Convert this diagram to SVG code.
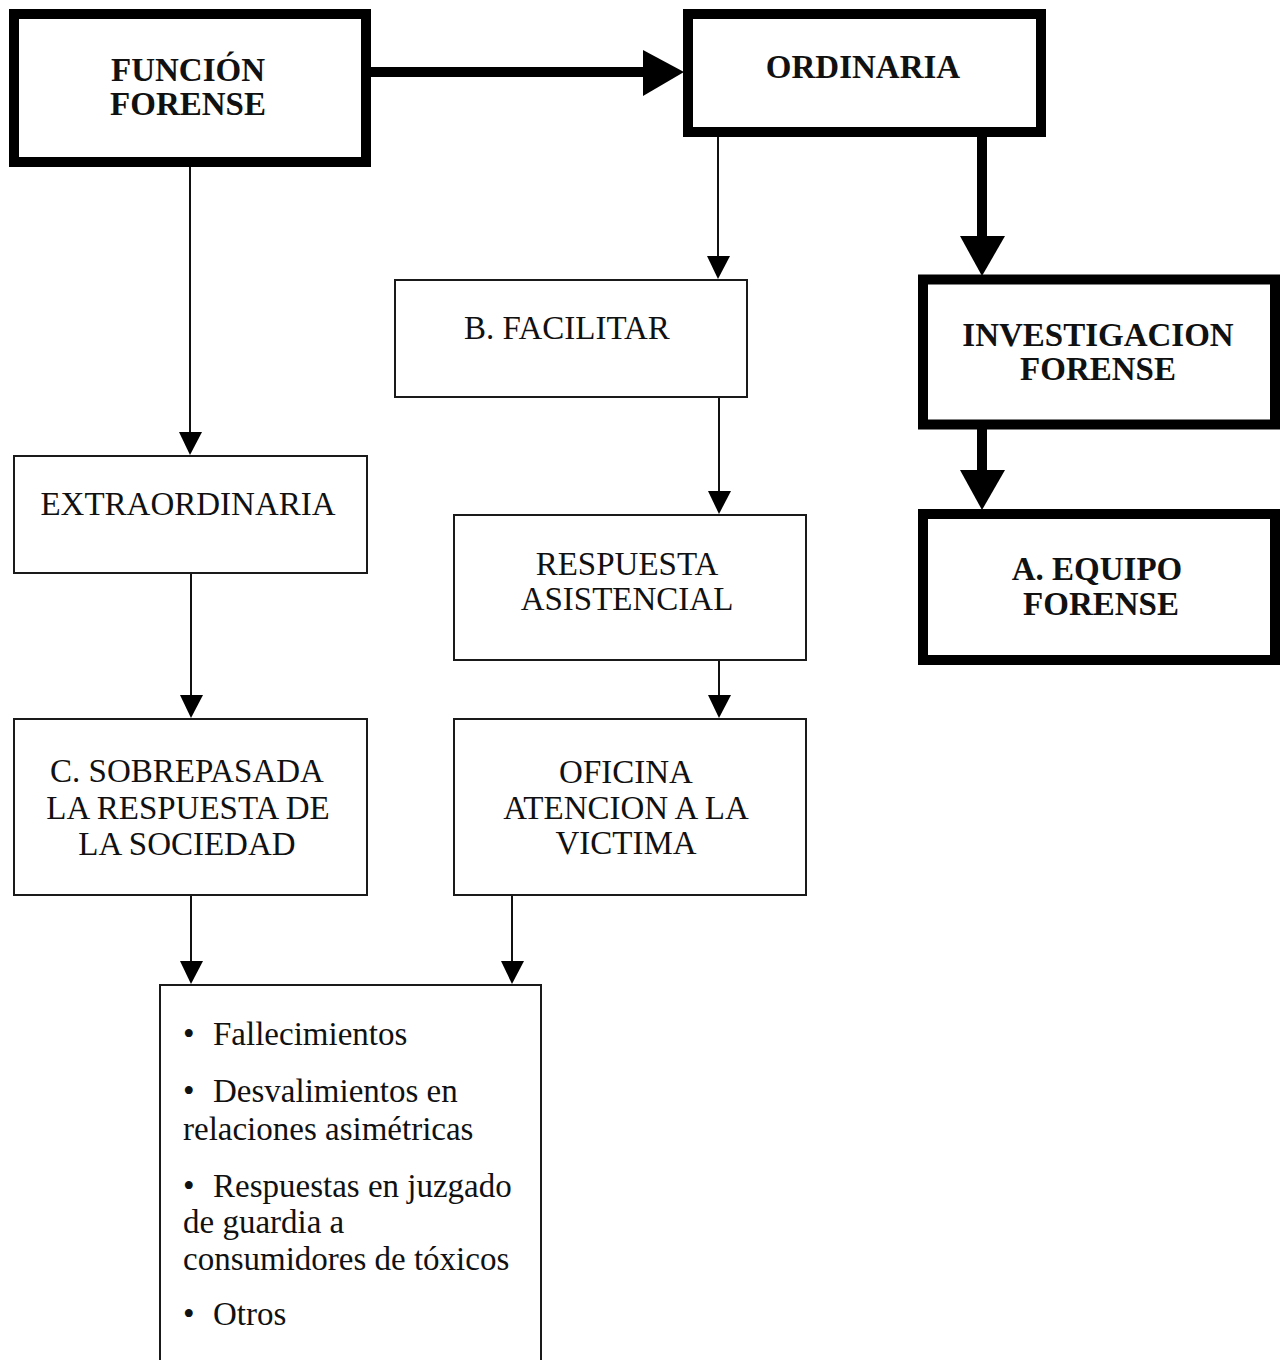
<svg xmlns="http://www.w3.org/2000/svg" width="1286" height="1360" viewBox="0 0 1286 1360">
<style>
  .thick { fill: #fff; stroke: #000; stroke-width: 10; }
  .thin { fill: #fff; stroke: #1a1a1a; stroke-width: 2; }
  .t { font-family: "Liberation Serif", "Times New Roman", serif; font-size: 33px; fill: #111; }
  .c { text-anchor: middle; }
  .b { font-weight: bold; }
  .ln { stroke: #111; stroke-width: 2; fill: none; }
  .lnk { stroke: #000; stroke-width: 10; fill: none; }
  .hd { fill: #000; }
</style>
<rect width="1286" height="1360" fill="#fff"/>
<g id="connectors">
  <line class="lnk" x1="366" y1="72" x2="646" y2="72"/>
  <polygon class="hd" points="643,50 684,72 643,96"/>
  <line class="lnk" x1="982" y1="132" x2="982" y2="240"/>
  <polygon class="hd" points="960,236 1005,236 982,276"/>
  <line class="lnk" x1="982" y1="424" x2="982" y2="474"/>
  <polygon class="hd" points="960,470 1005,470 982,510"/>
  <line class="ln" x1="718" y1="137" x2="718" y2="258"/>
  <polygon class="hd" points="707,256 730,256 718,279"/>
  <line class="ln" x1="190" y1="167" x2="190" y2="434"/>
  <polygon class="hd" points="179,432 202,432 190,455"/>
  <line class="ln" x1="719" y1="397" x2="719" y2="493"/>
  <polygon class="hd" points="708,491 731,491 719,514"/>
  <line class="ln" x1="191" y1="573" x2="191" y2="697"/>
  <polygon class="hd" points="180,695 203,695 191,718"/>
  <line class="ln" x1="719" y1="660" x2="719" y2="697"/>
  <polygon class="hd" points="708,695 731,695 719,718"/>
  <line class="ln" x1="191" y1="895" x2="191" y2="963"/>
  <polygon class="hd" points="180,961 203,961 191,984"/>
  <line class="ln" x1="512" y1="895" x2="512" y2="963"/>
  <polygon class="hd" points="501,961 524,961 512,984"/>
</g>
<g id="funcion-forense">
  <rect class="thick" x="14" y="14" width="352" height="148"/>
  <text class="t c b" x="188" y="81">FUNCIÓN</text>
  <text class="t c b" x="188" y="115">FORENSE</text>
</g>
<g id="ordinaria">
  <rect class="thick" x="688" y="14" width="353" height="118"/>
  <text class="t c b" x="863" y="78">ORDINARIA</text>
</g>
<g id="investigacion-forense">
  <rect class="thick" x="923" y="279.5" width="352" height="145"/>
  <text class="t c b" x="1098" y="346">INVESTIGACION</text>
  <text class="t c b" x="1098" y="380">FORENSE</text>
</g>
<g id="equipo-forense">
  <rect class="thick" x="923" y="514" width="352" height="146"/>
  <text class="t c b" x="1097" y="580">A. EQUIPO</text>
  <text class="t c b" x="1101" y="615">FORENSE</text>
</g>
<g id="facilitar">
  <rect class="thin" x="395" y="280" width="352" height="117"/>
  <text class="t c" x="567" y="339">B. FACILITAR</text>
</g>
<g id="extraordinaria">
  <rect class="thin" x="14" y="456" width="353" height="117"/>
  <text class="t c" x="188" y="515">EXTRAORDINARIA</text>
</g>
<g id="respuesta-asistencial">
  <rect class="thin" x="454" y="515" width="352" height="145"/>
  <text class="t c" x="627" y="575">RESPUESTA</text>
  <text class="t c" x="627" y="610">ASISTENCIAL</text>
</g>
<g id="sobrepasada">
  <rect class="thin" x="14" y="719" width="353" height="176"/>
  <text class="t c" x="187" y="782">C. SOBREPASADA</text>
  <text class="t c" x="188" y="819">LA RESPUESTA DE</text>
  <text class="t c" x="187" y="855">LA SOCIEDAD</text>
</g>
<g id="oficina">
  <rect class="thin" x="454" y="719" width="352" height="176"/>
  <text class="t c" x="626" y="783">OFICINA</text>
  <text class="t c" x="626" y="819">ATENCION A LA</text>
  <text class="t c" x="626" y="854">VICTIMA</text>
</g>
<g id="lista">
  <rect class="thin" x="160" y="985" width="381" height="400"/>
  <text class="t" x="183" y="1045">•<tspan x="213">Fallecimientos</tspan></text>
  <text class="t" x="183" y="1102">•<tspan x="213">Desvalimientos en</tspan></text>
  <text class="t" x="183" y="1140">relaciones asimétricas</text>
  <text class="t" x="183" y="1197">•<tspan x="213">Respuestas en juzgado</tspan></text>
  <text class="t" x="183" y="1233">de guardia a</text>
  <text class="t" x="183" y="1270">consumidores de tóxicos</text>
  <text class="t" x="183" y="1325">•<tspan x="213">Otros</tspan></text>
</g>
</svg>
